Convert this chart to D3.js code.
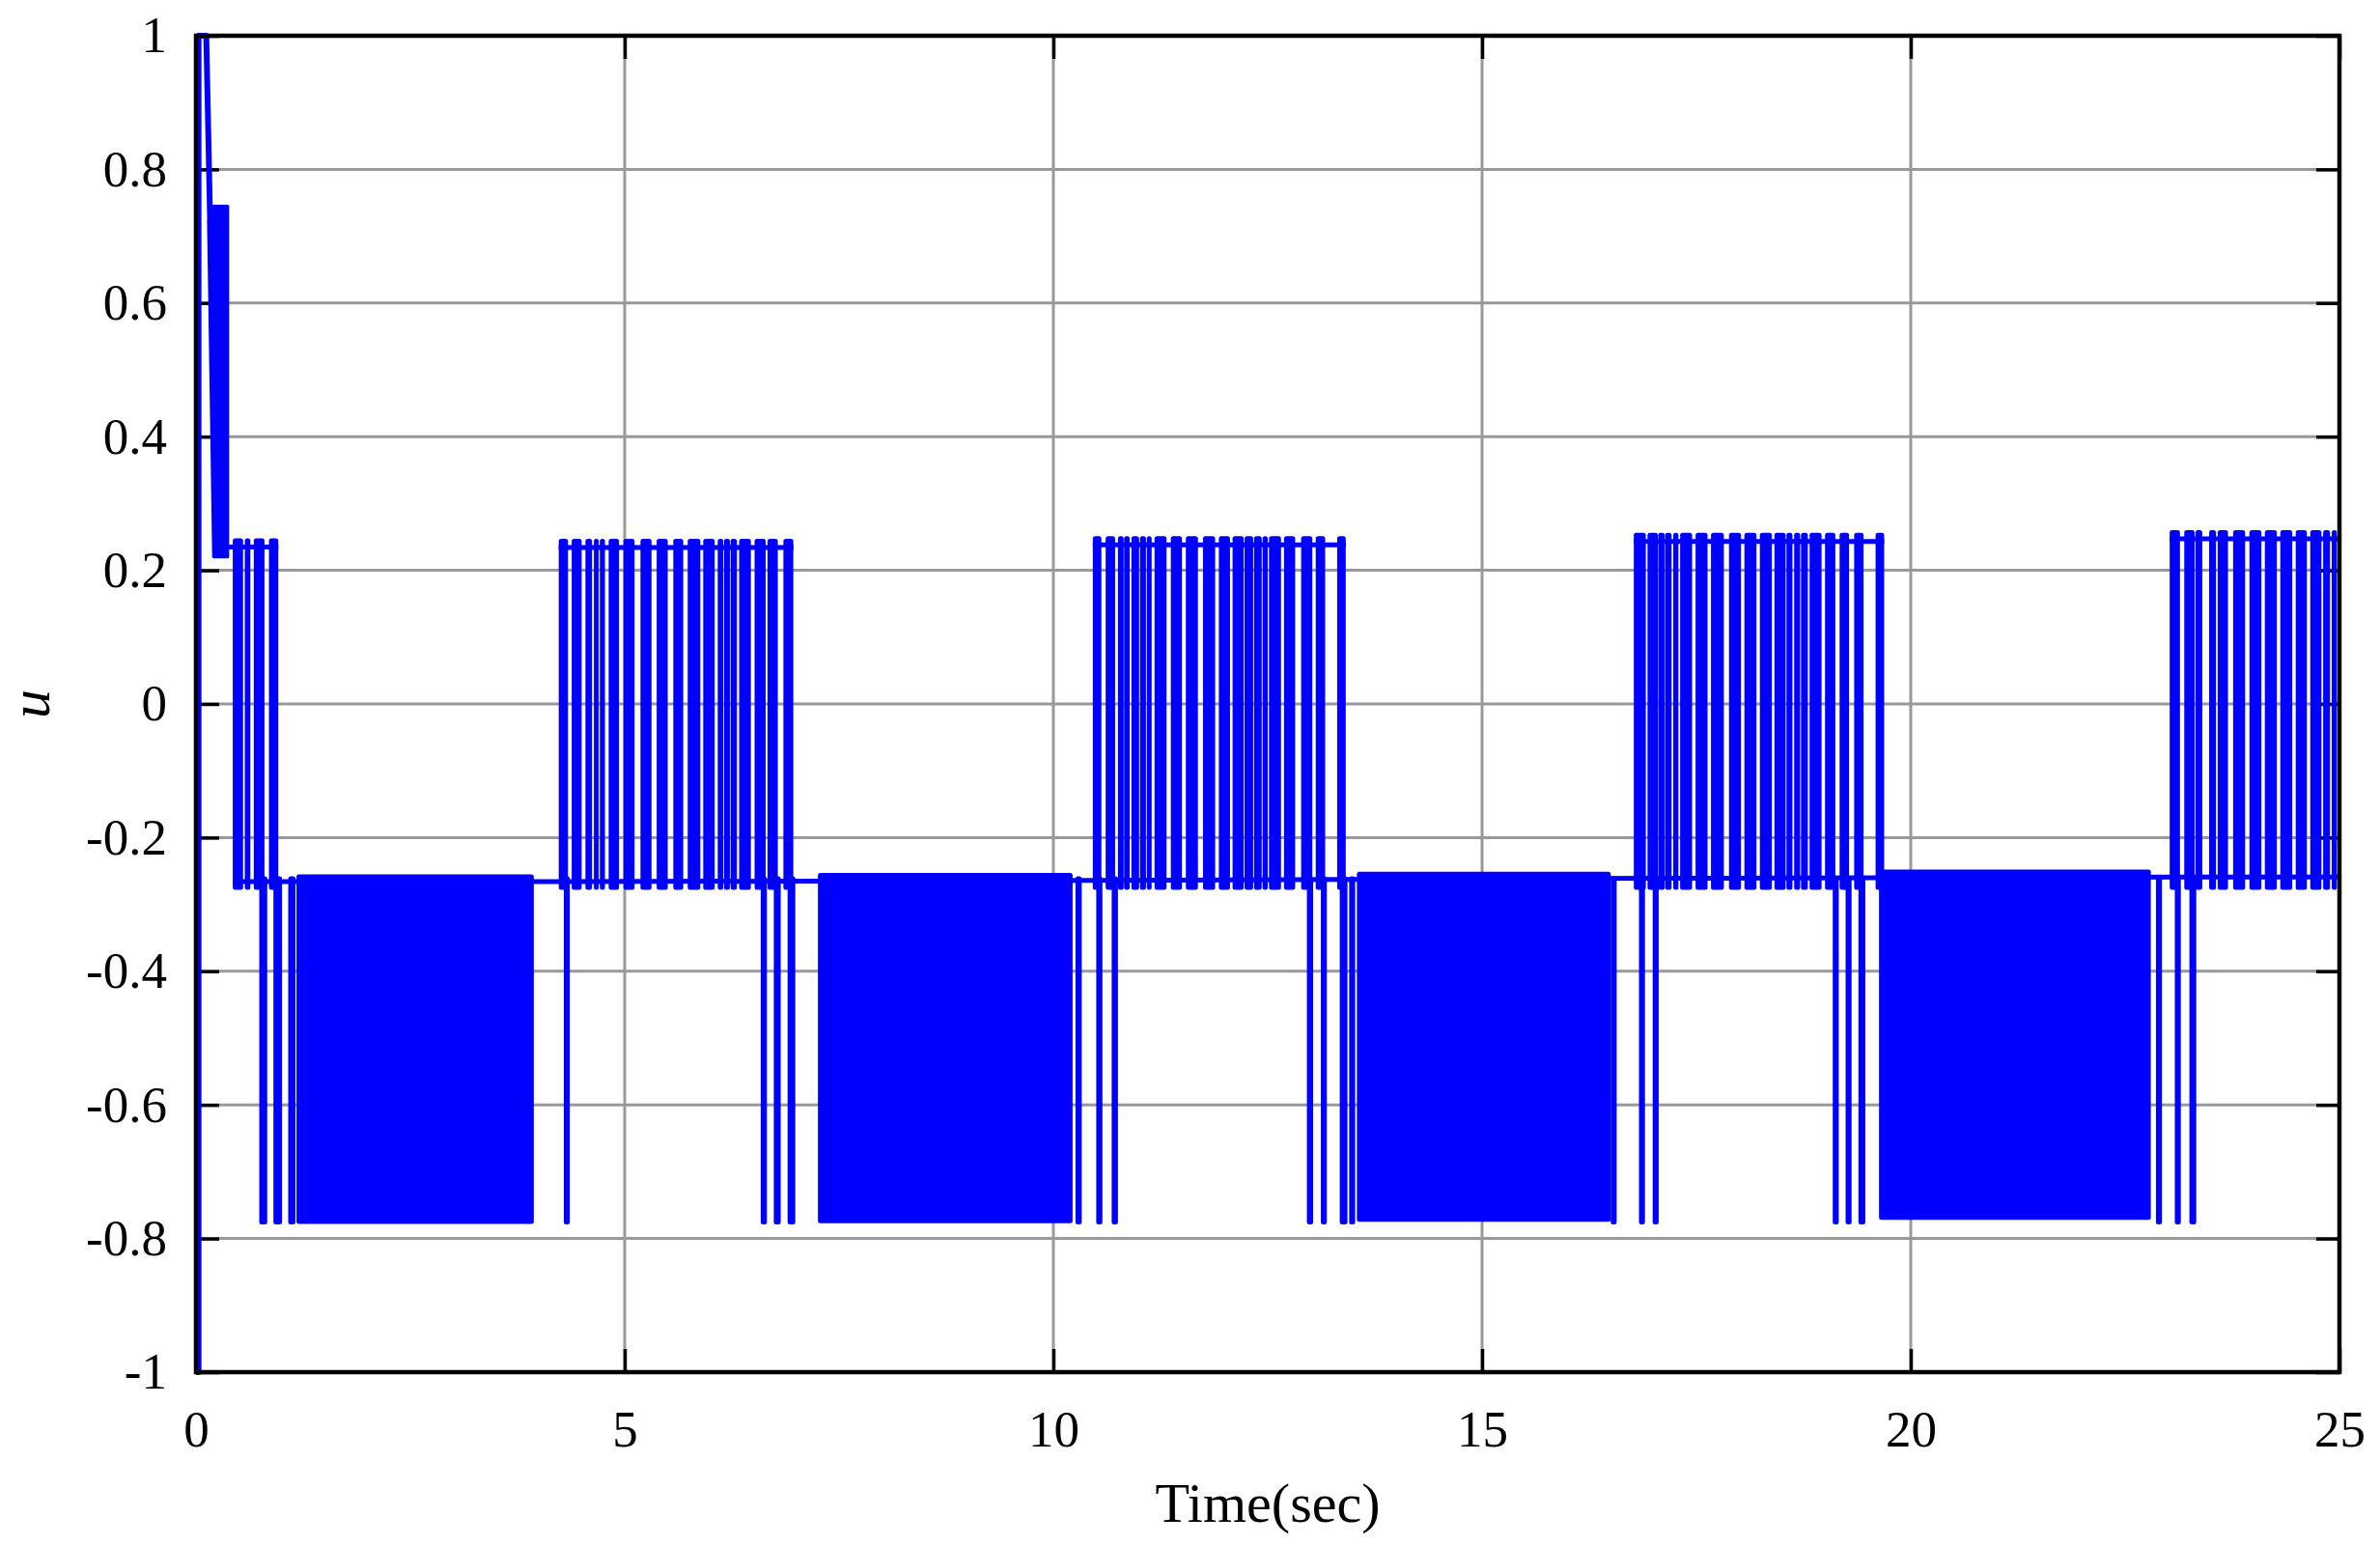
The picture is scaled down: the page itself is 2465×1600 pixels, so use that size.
<!DOCTYPE html>
<html>
<head>
<meta charset="utf-8">
<script src="https://cdn.jsdelivr.net/npm/d3@7"></script>
<style>
  html, body { margin: 0; padding: 0; background: #fff; }
  svg { display: block; }
  text { font-family: "Liberation Serif", "Times New Roman", serif; fill: #000; }
</style>
</head>
<body>
<svg id="chart" width="2465" height="1600"></svg>
<script>
// ---------------- data ----------------
const xTicks = [0, 5, 10, 15, 20, 25];
const xTickLabels = ["0", "5", "10", "15", "20", "25"];
const yTicks = [-1, -0.8, -0.6, -0.4, -0.2, 0, 0.2, 0.4, 0.6, 0.8, 1];
const yTickLabels = ["-1", "-0.8", "-0.6", "-0.4", "-0.2", "0", "0.2", "0.4", "0.6", "0.8", "1"];
const xLabel = "Time(sec)";
const yLabel = "u";

// initial transient (t, u)
const initT = [0, 0.03, 0.03, 0.12, 0.165];
const initU = [-1, -1, 1, 1, 0.72];
// initial chattering block outline (t, u)
const initBlockT = [0.146, 0.17, 0.37, 0.37, 0.205];
const initBlockU = [0.72, 0.745, 0.745, 0.22, 0.22];

// upper-level segments: time spans and upper level of each
const upperSpans = [[0.37, 0.96], [4.23, 6.97], [10.46, 13.41], [16.77, 19.69], [23.02, 25]];
const upperLevels = [0.235, 0.234, 0.238, 0.243, 0.247];

// middle level line (t, u)
const midT = [0.43, 4.3, 10.5, 17.0, 23.2, 25];
const midU = [-0.266, -0.266, -0.264, -0.261, -0.259, -0.259];

// bursts switching between the middle and the upper level [t start, t end]
const upBars = [
  [0.429, 0.549], [0.569, 0.634], [0.674, 0.799], [0.851, 0.96],
  [4.231, 4.339], [4.382, 4.498], [4.542, 4.619], [4.641, 4.684], [4.710, 4.770],
  [4.813, 4.934], [4.985, 5.115], [5.184, 5.313], [5.373, 5.502], [5.567, 5.683],
  [5.735, 5.882], [5.916, 6.050], [6.085, 6.149], [6.158, 6.227], [6.235, 6.309],
  [6.335, 6.472], [6.515, 6.644], [6.666, 6.786], [6.851, 6.967],
  [10.46, 10.56], [10.61, 10.72], [10.753, 10.82], [10.825, 10.89], [10.91, 11.0],
  [11.01, 11.08], [11.09, 11.14], [11.18, 11.32], [11.37, 11.5], [11.545, 11.686],
  [11.745, 11.887], [11.93, 12.06], [12.09, 12.22], [12.23, 12.33], [12.34, 12.43],
  [12.44, 12.50], [12.515, 12.655], [12.69, 12.82], [12.89, 13.02], [13.06, 13.17],
  [13.31, 13.41],
  [16.77, 16.91], [16.93, 17.05], [17.055, 17.13], [17.135, 17.21], [17.23, 17.29],
  [17.31, 17.45], [17.49, 17.63], [17.67, 17.82], [17.88, 18.02], [18.06, 18.2],
  [18.24, 18.38], [18.41, 18.54], [18.55, 18.62], [18.64, 18.71], [18.72, 18.8],
  [18.82, 18.96], [19.0, 19.12], [19.17, 19.28], [19.34, 19.45], [19.59, 19.69],
  [23.02, 23.14], [23.19, 23.31], [23.32, 23.4], [23.48, 23.56], [23.58, 23.7],
  [23.76, 23.9], [23.95, 24.09], [24.13, 24.27], [24.31, 24.45], [24.49, 24.62],
  [24.66, 24.79], [24.81, 24.89], [24.91, 24.97]
];

// single pulses from the middle level down to the lower level [t start, t end]
const downBars = [
  [0.738, 0.831], [0.903, 1.004], [1.076, 1.16], [4.29, 4.36],
  [6.587, 6.659], [6.739, 6.82], [6.9, 6.99], [10.258, 10.331], [10.5, 10.572], [10.68, 10.753],
  [12.957, 13.03], [13.12, 13.19], [13.34, 13.43], [13.45, 13.52], [16.5, 16.57], [16.83, 16.9], [16.99, 17.06],
  [19.09, 19.16], [19.24, 19.31], [19.39, 19.47], [22.86, 22.93], [23.08, 23.15], [23.25, 23.33]
];
const downLow = -0.779;
const downHigh = -0.258;

// dense chattering bands in the lower regime
const denseBands = [[1.172, 3.94], [7.254, 10.224], [13.54, 16.5], [19.63, 22.8]];
const denseTop = [-0.255, -0.253, -0.251, -0.248];
const denseBottom = [-0.778, -0.777, -0.775, -0.772];

// ---------------- drawing ----------------
const W = 2465, H = 1600;
const pLeft = 203, pRight = 2423, pTop = 37, pBottom = 1421;
const blue = "#0000ff";
const lw = 5;

const svg = d3.select("#chart");
const x = d3.scaleLinear().domain([0, 25]).range([pLeft, pRight]);
const y = d3.scaleLinear().domain([-1, 1]).range([pBottom, pTop]);

// grid
const grid = svg.append("g");
grid.selectAll("line.vx").data(xTicks).join("line")
  .attr("x1", d => x(d)).attr("x2", d => x(d)).attr("y1", pTop).attr("y2", pBottom)
  .attr("stroke", "#999999").attr("stroke-width", 3);
grid.selectAll("line.hy").data(yTicks).join("line")
  .attr("x1", pLeft).attr("x2", pRight).attr("y1", d => y(d)).attr("y2", d => y(d))
  .attr("stroke", "#999999").attr("stroke-width", 3);

// ticks (inside, on all four sides)
const tickLen = 24;
const axB = d3.axisBottom(x).tickValues(xTicks).tickFormat((d, i) => xTickLabels[i])
  .tickSizeInner(-tickLen).tickSizeOuter(0).tickPadding(39);
const axT = d3.axisTop(x).tickValues(xTicks).tickFormat("").tickSizeInner(-tickLen).tickSizeOuter(0);
const axL = d3.axisLeft(y).tickValues(yTicks).tickFormat((d, i) => yTickLabels[i])
  .tickSizeInner(-tickLen).tickSizeOuter(0).tickPadding(30);
const axR = d3.axisRight(y).tickValues(yTicks).tickFormat("").tickSizeInner(-tickLen).tickSizeOuter(0);

function styleAxis(g) {
  g.select(".domain").remove();
  g.selectAll(".tick line").attr("stroke", "#000").attr("stroke-width", 3.5);
  g.selectAll(".tick text").attr("font-size", 53)
    .attr("font-family", '"Liberation Serif", "Times New Roman", serif').attr("fill", "#000");
}
svg.append("g").attr("transform", `translate(0,${pBottom})`).call(axB).call(styleAxis);
svg.append("g").attr("transform", `translate(0,${pTop})`).call(axT).call(styleAxis);
svg.append("g").attr("transform", `translate(${pLeft},0)`).call(axL).call(styleAxis);
svg.append("g").attr("transform", `translate(${pRight},0)`).call(axR).call(styleAxis);

// data layer
const plot = svg.append("g");
const line = d3.line().x(d => x(d[0])).y(d => y(d[1]));

// initial transient
plot.append("path").datum(initT.map((t, i) => [t, initU[i]]))
  .attr("d", line).attr("fill", "none").attr("stroke", blue).attr("stroke-width", 6)
  .attr("stroke-linejoin", "round");
plot.append("path").datum(initBlockT.map((t, i) => [t, initBlockU[i]]))
  .attr("d", d => line(d) + "Z").attr("fill", blue).attr("stroke", blue)
  .attr("stroke-width", 3).attr("stroke-linejoin", "round");

// upper level lines
plot.selectAll("line.up").data(upperSpans).join("line")
  .attr("x1", d => x(d[0])).attr("x2", d => x(d[1]))
  .attr("y1", (d, i) => y(upperLevels[i])).attr("y2", (d, i) => y(upperLevels[i]))
  .attr("stroke", blue).attr("stroke-width", lw);

// middle level line
plot.append("path").datum(midT.map((t, i) => [t, midU[i]]))
  .attr("d", line).attr("fill", "none").attr("stroke", blue).attr("stroke-width", lw);

// upper bursts
function levelAt(t) {
  let k = 0;
  upperSpans.forEach((s, i) => { if (t >= s[0] - 0.05 && t <= s[1] + 0.05) k = i; });
  return upperLevels[k];
}
plot.selectAll("rect.ub").data(upBars).join("rect")
  .attr("x", d => x(d[0])).attr("width", d => Math.max(5, x(d[1]) - x(d[0])))
  .attr("y", d => y(levelAt(d[0]) + 0.013))
  .attr("height", d => y(-0.278) - y(levelAt(d[0]) + 0.013))
  .attr("rx", 2.5).attr("fill", blue);

// lower pulses
plot.selectAll("rect.db").data(downBars).join("rect")
  .attr("x", d => x(d[0])).attr("width", d => Math.max(5, x(d[1]) - x(d[0])))
  .attr("y", y(downHigh)).attr("height", y(downLow) - y(downHigh))
  .attr("rx", 2.5).attr("fill", blue);

// dense bands
plot.selectAll("rect.dense").data(denseBands).join("rect")
  .attr("x", d => x(d[0])).attr("width", d => x(d[1]) - x(d[0]))
  .attr("y", (d, i) => y(denseTop[i]))
  .attr("height", (d, i) => y(denseBottom[i]) - y(denseTop[i]))
  .attr("rx", 2.5).attr("fill", blue);

// border box
svg.append("rect").attr("x", pLeft).attr("y", pTop)
  .attr("width", pRight - pLeft).attr("height", pBottom - pTop)
  .attr("fill", "none").attr("stroke", "#000").attr("stroke-width", 4.5);

// axis titles
svg.append("text").attr("x", (pLeft + pRight) / 2).attr("y", 1576)
  .attr("text-anchor", "middle").attr("font-size", 58).text(xLabel);
svg.append("text").attr("transform", `translate(51,${(pTop + pBottom) / 2}) rotate(-90)`)
  .attr("text-anchor", "middle").attr("font-size", 60).attr("font-style", "italic").text(yLabel);
</script>
</body>
</html>
